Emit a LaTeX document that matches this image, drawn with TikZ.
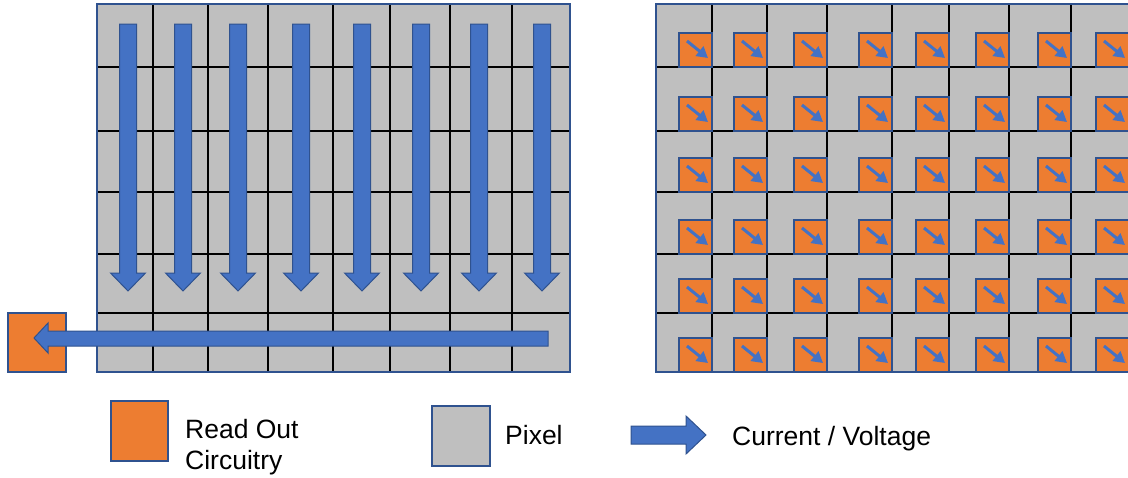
\documentclass[tikz,border=0pt]{standalone}
\usepackage{fontspec}
\setmainfont{Liberation Sans}
\usetikzlibrary{arrows.meta}

\definecolor{pixgray}{HTML}{BFBFBF}
\definecolor{rocorange}{HTML}{ED7D31}
\definecolor{flowblue}{HTML}{4472C4}
\definecolor{edgeblue}{HTML}{2F528F}

\tikzset{
    pixel/.style={fill=pixgray, draw=edgeblue, line width=1.5pt},
    gridline/.style={black, line width=2pt},
    readout/.style={fill=rocorange, draw=edgeblue, line width=2pt},
    flow/.style={fill=flowblue, draw=edgeblue, line width=1pt},
    flowtip/.style={flowblue, line width=3pt, -{Triangle[length=11pt,width=12pt]}},
    legendtext/.style={font=\fontsize{26.5}{31}\selectfont, inner sep=0pt, align=left},
}

\begin{document}
\begin{tikzpicture}[x=1pt, y=-1pt]

    \useasboundingbox (0,0) rectangle (1128,477);

    % 画素アレイ (左: 列読み出し, 右: 画素内読み出し)
    \foreach \gx in {97,656} {
        \fill[pixgray] (\gx,4) rectangle (\gx+473,372);
        \foreach \c in {56,111,171,236,293,353,415} {
            \draw[gridline] (\gx+\c,4) -- (\gx+\c,372);
        }
        \foreach \r in {67,131,192,254,313} {
            \draw[gridline] (\gx,\r) -- (\gx+473,\r);
        }
        \draw[pixel, fill=none] (\gx,4) rectangle (\gx+473,372);
    }

    % 列ごとの信号 (下向き矢印)
    \foreach \x in {128,183,238,301,362,421,479,542} {
        \draw[flow] (\x-8.5,24) -- (\x+8.5,24) -- (\x+8.5,273) -- (\x+17.5,273)
            -- (\x,291) -- (\x-17.5,273) -- (\x-8.5,273) -- cycle;
    }

    % 読み出し回路と横向き矢印
    \draw[readout] (8,313) rectangle (66,372);
    \draw[flow] (548,331) -- (548,346) -- (48,346) -- (48,353) -- (34,338)
        -- (48,323) -- (48,331) -- cycle;

    % 各画素の読み出し回路
    \foreach \r in {67,131,192,254,313,372} {
        \foreach \c in {56,111,171,236,293,353,415,473} {
            \draw[readout] (656+\c-33,\r-34) rectangle (656+\c,\r);
            \draw[flowtip] (656+\c-25,\r-26) -- (656+\c-4,\r-9);
        }
    }

    % 凡例
    \draw[readout] (111,401) rectangle (168,461);
    \node[legendtext, anchor=north west] (rolabel) at (185,419) {Read Out\\Circuitry};

    \draw[pixel] (432,406) rectangle (490,466);
    \node[legendtext, anchor=base west] (pixlabel) at (505,444) {Pixel};

    \draw[flow] (631,426) -- (686,426) -- (686,416) -- (706,435) -- (686,454)
        -- (686,444) -- (631,444) -- cycle;
    \node[legendtext, anchor=base west] (flowlabel) at (732,445) {Current / Voltage};

\end{tikzpicture}
\end{document}
